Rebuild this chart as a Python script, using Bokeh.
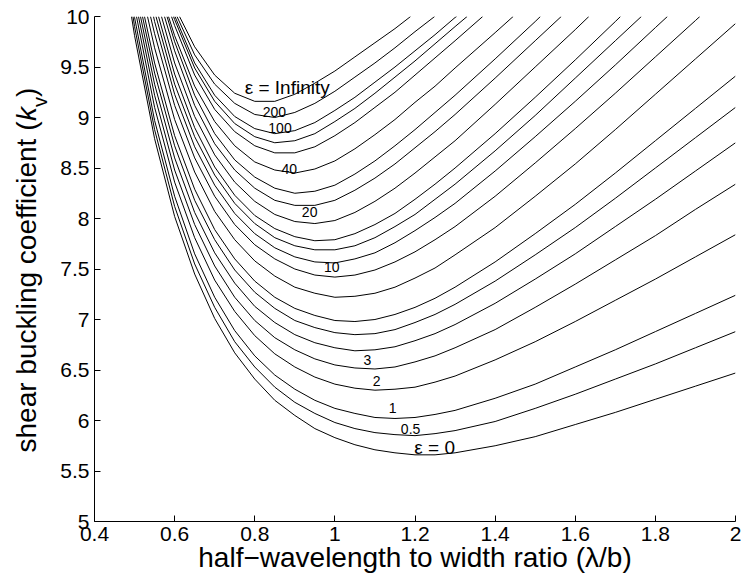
from bokeh.plotting import figure
from bokeh.layouts import row
from bokeh.models import Range1d, FixedTicker, ColumnDataSource
from bokeh.embed import file_html
from bokeh.resources import INLINE
from bokeh.core.properties import value

# ---------------- data ----------------
X_GRID = [0.5, 0.55, 0.6, 0.65, 0.7, 0.75, 0.8, 0.85, 0.9, 0.95, 1.0, 1.05,
          1.1, 1.15, 1.2, 1.25, 1.3, 1.4, 1.5, 1.6, 1.7, 1.8, 1.9, 2.0]

EPSILON = ["0", "0.5", "1", "2", "3", "4", "5", "6", "8", "10", "12", "14",
           "16", "20", "25", "30", "40", "60", "80", "100", "200", "Infinity"]

K_0 = [9.81, 8.79, 8.02, 7.45, 7.01, 6.67, 6.41, 6.20, 6.05, 5.92, 5.83, 5.76, 5.71, 5.68, 5.66, 5.66, 5.68, 5.75, 5.84, 5.96, 6.08, 6.21, 6.34, 6.47]
K_0_5 = [9.90, 8.88, 8.12, 7.55, 7.12, 6.78, 6.53, 6.33, 6.18, 6.07, 5.98, 5.92, 5.88, 5.86, 5.85, 5.87, 5.90, 5.99, 6.12, 6.26, 6.41, 6.56, 6.72, 6.88]
K_1 = [9.99, 8.97, 8.22, 7.65, 7.22, 6.89, 6.64, 6.45, 6.31, 6.20, 6.12, 6.07, 6.03, 6.02, 6.03, 6.06, 6.10, 6.22, 6.36, 6.53, 6.70, 6.88, 7.06, 7.24]
K_2 = [None, 9.10, 8.36, 7.81, 7.39, 7.08, 6.84, 6.66, 6.53, 6.43, 6.36, 6.32, 6.30, 6.31, 6.33, 6.38, 6.44, 6.60, 6.78, 6.98, 7.19, 7.40, 7.62, 7.84]
K_3 = [None, 9.22, 8.48, 7.94, 7.53, 7.22, 6.99, 6.82, 6.70, 6.61, 6.55, 6.52, 6.51, 6.53, 6.58, 6.64, 6.72, 6.90, 7.12, 7.35, 7.59, 7.83, 8.09, 8.34]
K_4 = [None, 9.33, 8.60, 8.06, 7.66, 7.36, 7.13, 6.97, 6.85, 6.77, 6.72, 6.69, 6.70, 6.73, 6.79, 6.86, 6.95, 7.16, 7.40, 7.65, 7.92, 8.19, 8.47, 8.75]
K_5 = [None, 9.44, 8.72, 8.18, 7.79, 7.49, 7.27, 7.11, 6.99, 6.92, 6.87, 6.85, 6.86, 6.90, 6.97, 7.05, 7.15, 7.38, 7.64, 7.91, 8.20, 8.50, 8.80, 9.10]
K_6 = [None, 9.54, 8.82, 8.29, 7.89, 7.60, 7.38, 7.22, 7.11, 7.04, 6.99, 6.98, 7.00, 7.05, 7.12, 7.21, 7.32, 7.57, 7.85, 8.14, 8.45, 8.77, 9.09, 9.41]
K_8 = [None, 9.69, 8.98, 8.46, 8.07, 7.79, 7.58, 7.43, 7.32, 7.26, 7.22, 7.23, 7.26, 7.32, 7.41, 7.51, 7.64, 7.91, 8.22, 8.54, 8.88, 9.23, 9.58, 9.93]
K_10 = [None, 9.83, 9.12, 8.60, 8.22, 7.94, 7.74, 7.60, 7.50, 7.44, 7.42, 7.44, 7.49, 7.57, 7.67, 7.79, 7.92, 8.22, 8.55, 8.89, 9.24, 9.60, 9.96, None]
K_12 = [None, 9.95, 9.23, 8.71, 8.33, 8.05, 7.85, 7.71, 7.62, 7.57, 7.56, 7.60, 7.66, 7.76, 7.88, 8.01, 8.15, 8.47, 8.81, 9.16, 9.52, 9.89, None, None]
K_14 = [None, None, 9.33, 8.81, 8.43, 8.15, 7.95, 7.81, 7.73, 7.69, 7.69, 7.73, 7.81, 7.92, 8.04, 8.19, 8.34, 8.67, 9.02, 9.39, 9.76, None, None, None]
K_16 = [None, None, 9.43, 8.90, 8.51, 8.23, 8.03, 7.90, 7.82, 7.78, 7.79, 7.85, 7.94, 8.05, 8.19, 8.34, 8.50, 8.84, 9.20, 9.57, 9.95, None, None, None]
K_20 = [None, None, 9.54, 9.01, 8.63, 8.36, 8.17, 8.04, 7.97, 7.95, 7.98, 8.06, 8.17, 8.30, 8.45, 8.61, 8.77, 9.13, 9.50, 9.87, None, None, None, None]
K_25 = [None, None, 9.66, 9.12, 8.74, 8.48, 8.30, 8.18, 8.13, 8.13, 8.18, 8.28, 8.40, 8.54, 8.70, 8.86, 9.03, 9.39, 9.76, None, None, None, None, None]
K_30 = [None, None, 9.75, 9.22, 8.84, 8.58, 8.41, 8.30, 8.25, 8.27, 8.33, 8.44, 8.57, 8.72, 8.88, 9.05, 9.22, 9.58, 9.95, None, None, None, None, None]
K_40 = [None, None, 9.81, 9.31, 8.96, 8.72, 8.56, 8.48, 8.45, 8.49, 8.57, 8.69, 8.83, 8.98, 9.15, 9.31, 9.49, 9.84, None, None, None, None, None, None]
K_60 = [None, None, 9.91, 9.42, 9.08, 8.86, 8.72, 8.65, 8.65, 8.71, 8.82, 8.95, 9.10, 9.25, 9.42, 9.59, 9.76, None, None, None, None, None, None, None]
K_80 = [None, None, 9.97, 9.49, 9.16, 8.94, 8.81, 8.75, 8.77, 8.84, 8.96, 9.09, 9.24, 9.40, 9.56, 9.73, 9.90, None, None, None, None, None, None, None]
K_100 = [None, None, None, 9.54, 9.22, 9.01, 8.89, 8.84, 8.87, 8.95, 9.07, 9.20, 9.35, 9.50, 9.66, 9.82, 9.99, None, None, None, None, None, None, None]
K_200 = [None, None, None, 9.62, 9.33, 9.14, 9.03, 9.00, 9.05, 9.14, 9.26, 9.40, 9.54, 9.69, 9.85, None, None, None, None, None, None, None, None, None]
K_INF = [None, None, None, 9.70, 9.42, 9.24, 9.16, 9.16, 9.23, 9.34, 9.46, 9.60, 9.74, 9.88, None, None, None, None, None, None, None, None, None, None]

K_CURVES = [K_0, K_0_5, K_1, K_2, K_3, K_4, K_5, K_6, K_8, K_10, K_12, K_14,
            K_16, K_20, K_25, K_30, K_40, K_60, K_80, K_100, K_200, K_INF]

# where each curve meets the top of the chart (k = 10)
K_TOP = 10.0
X_LEFT = [0.4924, 0.4961, 0.4999, 0.5048, 0.5098, 0.5148, 0.5198, 0.5248, 0.5323,
          0.5398, 0.5473, 0.5535, 0.5598, 0.5672, 0.5747, 0.5810, 0.5847, 0.5922,
          0.5972, 0.6009, 0.6059, 0.6122]
X_RIGHT = [None, None, None, None, None, None, None, None, None,
           1.911, 1.830, 1.765, 1.713, 1.634, 1.565, 1.513, 1.445, 1.369,
           1.330, 1.304, 1.249, 1.189]

X_TICKS = [0.4, 0.6, 0.8, 1.0, 1.2, 1.4, 1.6, 1.8, 2.0]
X_TICK_LABELS = ["0.4", "0.6", "0.8", "1", "1.2", "1.4", "1.6", "1.8", "2"]
Y_TICKS = [5, 5.5, 6, 6.5, 7, 7.5, 8, 8.5, 9, 9.5, 10]
Y_TICK_LABELS = ["5", "5.5", "6", "6.5", "7", "7.5", "8", "8.5", "9", "9.5", "10"]

NUM_LABELS = ["200", "100", "40", "20", "10", "3", "2", "1", "0.5"]
EPS_LABELS = ["\u03b5 = Infinity", "\u03b5 = 0"]

X_TITLE = "half\u2212wavelength to width ratio (\u03bb/b)"
Y_TITLE_PARTS = ["shear buckling coefficient (", "k", "v", ")"]

# ---------------- placement and style ----------------
NUM_X = [0.849, 0.863, 0.886, 0.937, 0.992, 1.081, 1.104, 1.144, 1.189]
NUM_Y = [9.050, 8.894, 8.492, 8.062, 7.518, 6.601, 6.389, 6.126, 5.918]
EPS_X = [0.881, 1.249]
EPS_Y = [9.294, 5.730]

# y-title pieces in the side strip (x in strip pixels, y on the k scale)
YT_X = [26.3, 26.3, 39.1, 26.3]
YT_Y = [5.683, 8.965, 9.104, 9.203]
YT_SIZE = ["28px", "28px", "20px", "28px"]
YT_STYLE = ["normal", "italic", "normal", "normal"]

FONT = "Liberation Sans"
H = 581
STRIP_W = 50
TOP_B = 16
BOT_B = 60

# side strip that carries the vertical axis title
side = figure(width=STRIP_W, height=H, x_range=Range1d(0, STRIP_W), y_range=Range1d(5, 10),
              output_backend="svg", toolbar_location=None, x_axis_type=None, y_axis_type=None,
              min_border_left=0, min_border_right=0, min_border_top=TOP_B,
              min_border_bottom=BOT_B)
side.outline_line_color = None
side.background_fill_color = "white"
side.border_fill_color = "white"
for tx, ty, tt, ts, st in zip(YT_X, YT_Y, Y_TITLE_PARTS, YT_SIZE, YT_STYLE):
    side.text(x=[tx], y=[ty], text=[tt], angle=1.5707963267948966, text_align="left",
              text_baseline="middle", text_font=value(FONT), text_font_size=value(ts),
              text_font_style=st, text_color="black")

p = figure(width=741 - STRIP_W, height=H, x_range=Range1d(0.4, 2.0), y_range=Range1d(5, 10),
           output_backend="svg", toolbar_location=None,
           min_border_left=44, min_border_right=6, min_border_top=TOP_B,
           min_border_bottom=BOT_B)
p.outline_line_color = None
p.xgrid.visible = False
p.ygrid.visible = False
p.background_fill_color = "white"
p.border_fill_color = "white"

for xl, ks, xr in zip(X_LEFT, K_CURVES, X_RIGHT):
    xs = [xl]
    ys = [K_TOP]
    for x, k in zip(X_GRID, ks):
        if k is not None:
            xs.append(x)
            ys.append(k)
    if xr is not None:
        xs.append(xr)
        ys.append(K_TOP)
    p.line(xs, ys, line_color="black", line_width=1)

num_src = ColumnDataSource(dict(x=NUM_X, y=NUM_Y, text=NUM_LABELS))
p.text(x="x", y="y", text="text", source=num_src, text_font=value(FONT),
       text_font_size=value("14px"), text_align="center", text_baseline="middle",
       text_color="black")
eps_src = ColumnDataSource(dict(x=EPS_X, y=EPS_Y, text=EPS_LABELS))
p.text(x="x", y="y", text="text", source=eps_src, text_font=value(FONT),
       text_font_size=value("19px"), text_align="center", text_baseline="middle",
       text_color="black")

for ax in (p.xaxis[0], p.yaxis[0]):
    ax.major_tick_in = 6
    ax.major_tick_out = 0
    ax.minor_tick_line_color = None
    ax.axis_line_color = "black"
    ax.axis_line_width = 1
    ax.major_tick_line_color = "black"
    ax.major_label_text_font = FONT
    ax.major_label_text_font_size = "21px"
    ax.major_label_text_color = "black"
    ax.major_label_standoff = 5

p.xaxis.ticker = FixedTicker(ticks=X_TICKS)
p.xaxis.major_label_overrides = dict(zip(X_TICKS, X_TICK_LABELS))
p.yaxis.ticker = FixedTicker(ticks=Y_TICKS)
p.yaxis.major_label_overrides = dict(zip(Y_TICKS, Y_TICK_LABELS))

p.xaxis.axis_label = X_TITLE
p.xaxis.axis_label_text_font = FONT
p.xaxis.axis_label_text_font_size = "28px"
p.xaxis.axis_label_text_font_style = "normal"
p.xaxis.axis_label_text_color = "black"
p.xaxis.axis_label_standoff = -2

layout = row(side, p)
open("out.html", "w").write(file_html(layout, INLINE))
